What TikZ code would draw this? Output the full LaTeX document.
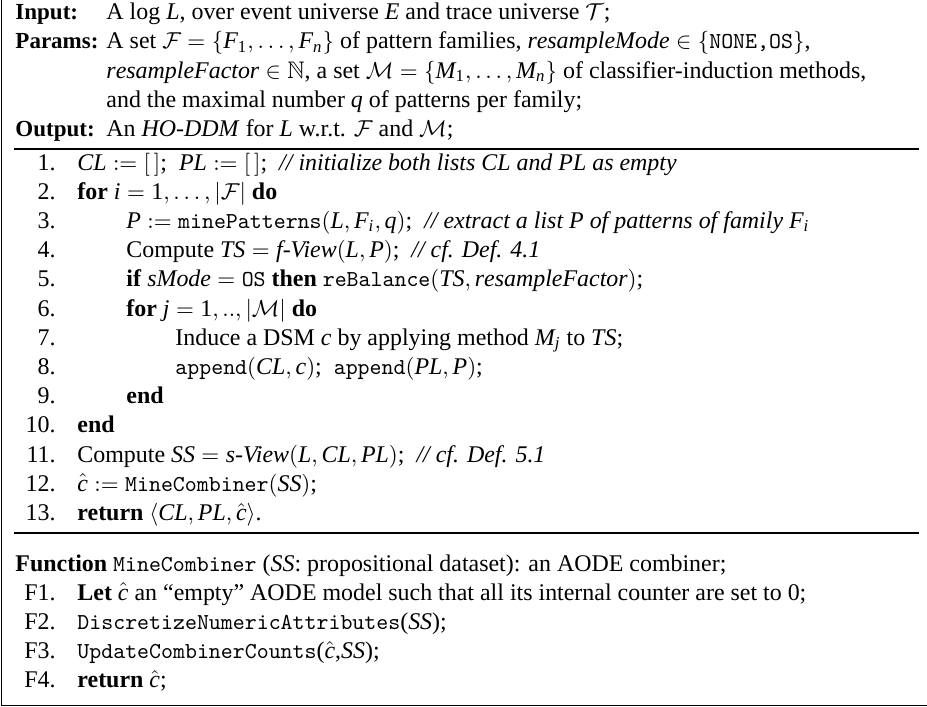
\documentclass[tikz,border=0pt]{standalone}
\usepackage{amsmath}
\usepackage{amssymb}
\usepackage[no-math]{fontspec}
\setmainfont{Liberation Serif}[NFSSFamily=libser]
\usepackage{tikz}
\usetikzlibrary{positioning}

% Times-like letters and digits in math
\DeclareSymbolFont{tlet}{TU}{libser}{m}{it}
\DeclareSymbolFont{tnum}{TU}{libser}{m}{n}
\DeclareMathAlphabet{\mathit}{TU}{libser}{m}{it}
\def\mletter#1{\DeclareMathSymbol{#1}{\mathalpha}{tlet}{`#1}}
\def\mdigit#1{\DeclareMathSymbol{#1}{\mathalpha}{tnum}{`#1}}
\mletter a\mletter b\mletter c\mletter d\mletter e\mletter f\mletter g\mletter h\mletter i
\mletter j\mletter k\mletter l\mletter m\mletter n\mletter o\mletter p\mletter q\mletter r
\mletter s\mletter t\mletter u\mletter v\mletter w\mletter x\mletter y\mletter z
\mletter A\mletter B\mletter C\mletter D\mletter E\mletter F\mletter G\mletter H\mletter I
\mletter J\mletter K\mletter L\mletter M\mletter N\mletter O\mletter P\mletter Q\mletter R
\mletter S\mletter T\mletter U\mletter V\mletter W\mletter X\mletter Y\mletter Z
\mdigit 0\mdigit 1\mdigit 2\mdigit 3\mdigit 4\mdigit 5\mdigit 6\mdigit 7\mdigit 8\mdigit 9

\newcommand{\tfn}[1]{{\fontsize{9.9}{12}\selectfont\ttfamily #1}}
\newcommand{\kwd}[1]{\textbf{#1}}
\newcommand{\cmt}[1]{\textit{// #1}}

\tikzset{
  lbl/.style={anchor=base west, inner sep=0pt, font=\bfseries},
  txt/.style={anchor=base west, inner sep=0pt},
  num/.style={anchor=base east, inner sep=0pt},
  rulebar/.style={line width=0.85pt},
  frame/.style={line width=0.5pt}
}

\begin{document}
\begin{tikzpicture}[x=0.4347pt, y=-0.4347pt, font=\fontsize{10.4}{12.5}\selectfont]
    \useasboundingbox (0,0) rectangle (927,706);

    % Frame (left and bottom sides)
    \draw[frame] (1.5,0) -- (1.5,705.5) -- (927,705.5);

    % Header
    \node[lbl] (inLbl) at (15,19.5) {Input:};
    \node[txt] (inTxt) at (106,19.5) {A log $L$, over event universe $E$ and trace universe $\mathcal{T}$;};
    \node[lbl] (parLbl) at (15,48.7) {Params:};
    \node[txt] (parTxtA) at (106,48.7) {A set $\mathcal{F}=\{F_1,\ldots,F_n\}$ of pattern families, $\mathit{resampleMode}\in\{\text{\tfn{NONE,OS}}\}$,};
    \node[txt] (parTxtB) at (106,78) {$\mathit{resampleFactor}\in\mathbb{N}$, a set $\mathcal{M}=\{M_1,\ldots,M_n\}$ of classifier-induction methods,};
    \node[txt] (parTxtC) at (106,107.2) {and the maximal number $q$ of patterns per family;};
    \node[lbl] (outLbl) at (15,136.5) {Output:};
    \node[txt] (outTxt) at (106,136.5) {An \textit{HO-DDM} for $L$ w.r.t. $\mathcal{F}$ and $\mathcal{M}$;};

    \draw[rulebar] (14,149) -- (919,149);

    % Main procedure
    \node[num] (n1) at (56,170) {1.};
    \node[txt] (l1) at (77,170) {$CL:=[\,]$;\ \ $PL:=[\,]$;\ \ \cmt{initialize both lists CL and PL as empty}};
    \node[num] (n2) at (56,199.2) {2.};
    \node[txt] (l2) at (77,199.2) {\kwd{for} $i=1,\ldots,|\mathcal{F}|$ \kwd{do}};
    \node[num] (n3) at (56,228.4) {3.};
    \node[txt] (l3) at (126,228.4) {$P:=\text{\tfn{minePatterns}}(L,F_i,q)$;\ \ \cmt{extract a list P of patterns of family $F_i$}};
    \node[num] (n4) at (56,257.6) {4.};
    \node[txt] (l4) at (126,257.6) {Compute $TS=\textit{f-View}(L,P)$;\ \ \cmt{cf. Def. 4.1}};
    \node[num] (n5) at (56,286.8) {5.};
    \node[txt] (l5) at (126,286.8) {\kwd{if} $\mathit{sMode}=\text{\tfn{OS}}$ \kwd{then} $\text{\tfn{reBalance}}(TS,\mathit{resampleFactor})$;};
    \node[num] (n6) at (56,316) {6.};
    \node[txt] (l6) at (126,316) {\kwd{for} $j=1,..,|\mathcal{M}|$ \kwd{do}};
    \node[num] (n7) at (56,345.2) {7.};
    \node[txt] (l7) at (175,345.2) {Induce a DSM $c$ by applying method $M_j$ to $TS$;};
    \node[num] (n8) at (56,374.4) {8.};
    \node[txt] (l8) at (175,374.4) {$\text{\tfn{append}}(CL,c)$;\ \ $\text{\tfn{append}}(PL,P)$;};
    \node[num] (n9) at (56,403.6) {9.};
    \node[txt] (l9) at (126,403.6) {\kwd{end}};
    \node[num] (n10) at (56,432.8) {10.};
    \node[txt] (l10) at (77,432.8) {\kwd{end}};
    \node[num] (n11) at (56,462) {11.};
    \node[txt] (l11) at (77,462) {Compute $SS=\textit{s-View}(L,CL,PL)$;\ \ \cmt{cf. Def. 5.1}};
    \node[num] (n12) at (56,491.2) {12.};
    \node[txt] (l12) at (77,491.2) {$\hat{c}:=\text{\tfn{MineCombiner}}(SS)$;};
    \node[num] (n13) at (56,520.4) {13.};
    \node[txt] (l13) at (77,520.4) {\kwd{return} $\langle CL,PL,\hat{c}\rangle$.};

    \draw[rulebar] (14,533) -- (919,533);

    % Combiner function
    \node[txt] (fnHead) at (15,571) {\kwd{Function} \tfn{MineCombiner} (\textit{SS}: propositional dataset): an AODE combiner;};
    \node[num] (f1) at (56,600.2) {F1.};
    \node[txt] (lf1) at (77,600.2) {\kwd{Let} $\hat{c}$ an ``empty'' AODE model such that all its internal counter are set to 0;};
    \node[num] (f2) at (56,629.4) {F2.};
    \node[txt] (lf2) at (77,629.4) {\tfn{DiscretizeNumericAttributes}(\textit{SS});};
    \node[num] (f3) at (56,658.6) {F3.};
    \node[txt] (lf3) at (77,658.6) {\tfn{UpdateCombinerCounts}($\hat{c}$,\textit{SS});};
    \node[num] (f4) at (56,687.8) {F4.};
    \node[txt] (lf4) at (77,687.8) {\kwd{return} $\hat{c}$;};
\end{tikzpicture}
\end{document}
